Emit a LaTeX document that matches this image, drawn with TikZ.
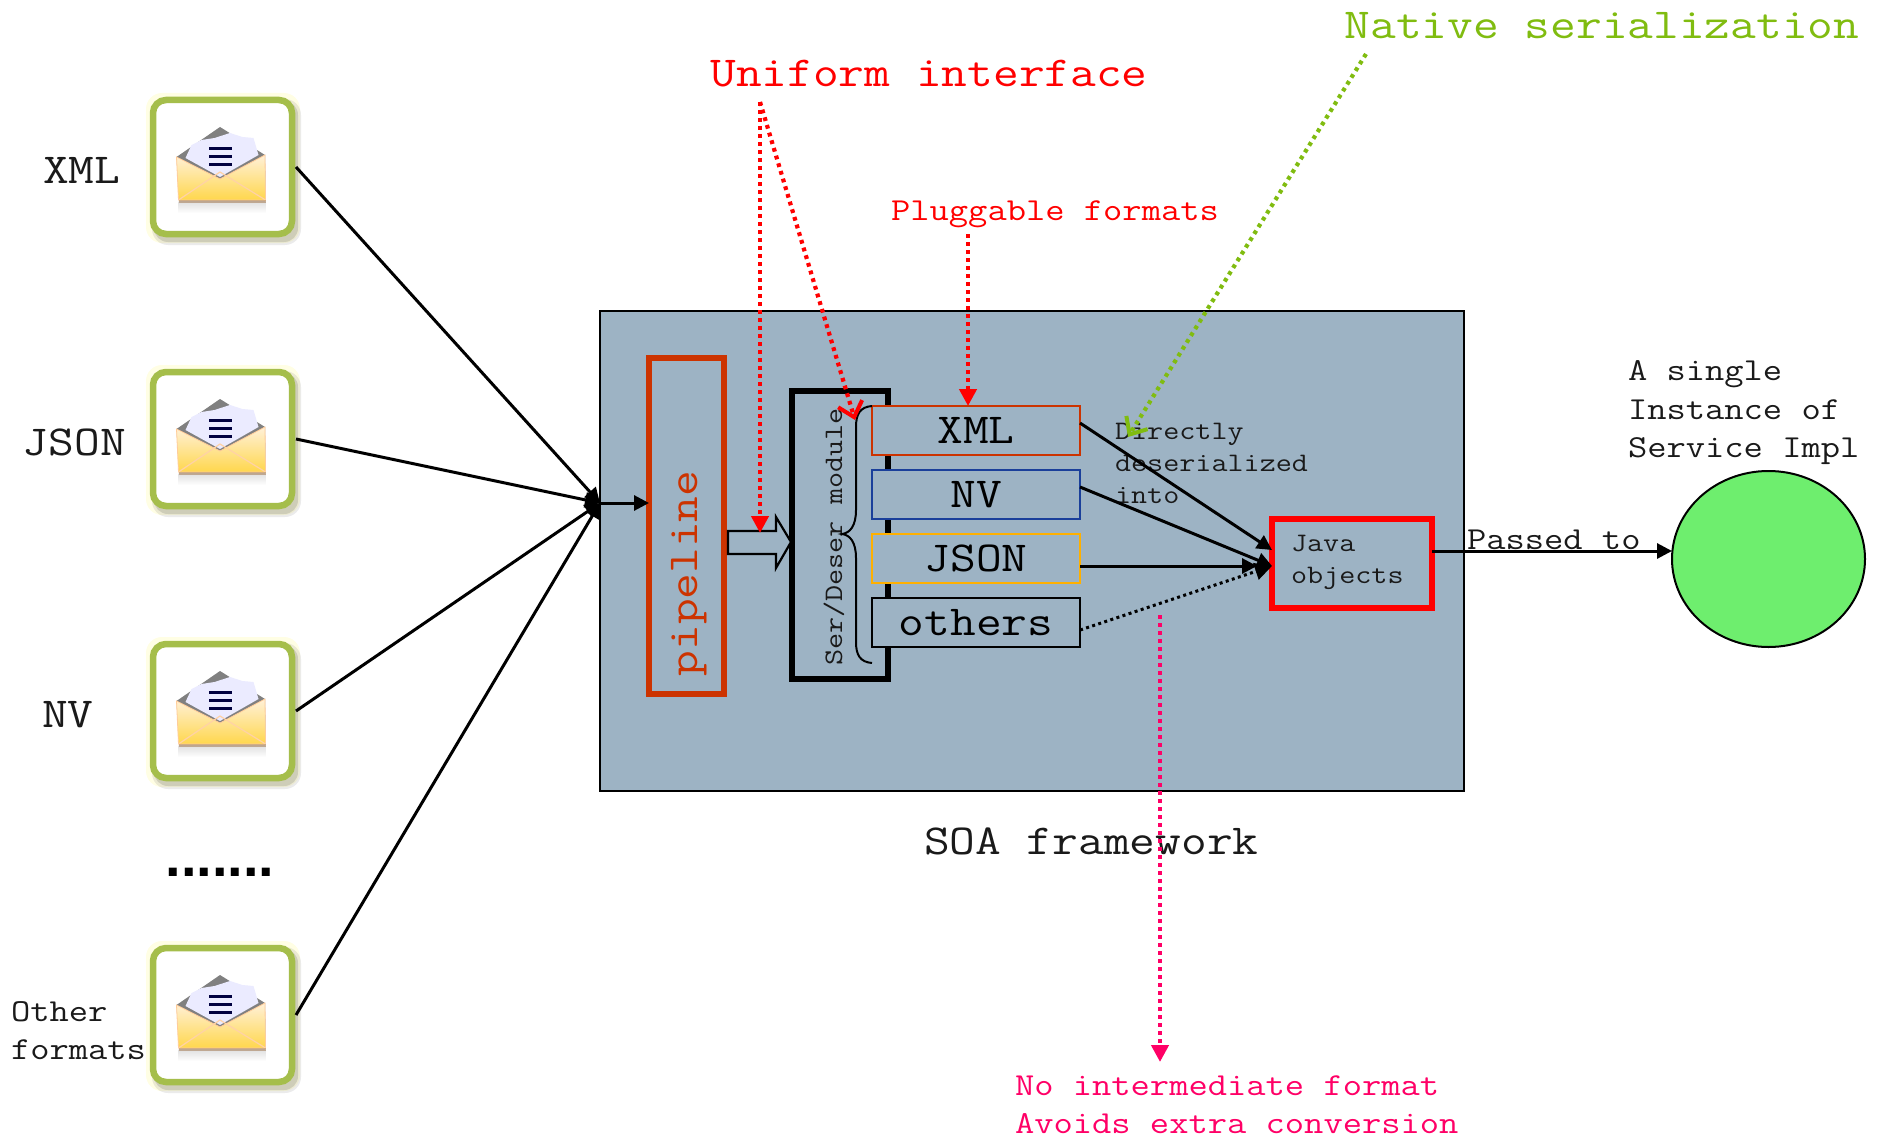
\documentclass[tikz,border=0pt]{standalone}
\usepackage{fontspec}
\usetikzlibrary{arrows.meta,shapes.geometric}
\setmonofont[FakeStretch=1.17]{Latin Modern Mono}
\newfontfamily\dotfont{Liberation Sans}[BoldFont={Liberation Sans Bold}]
\definecolor{panel}{HTML}{9DB3C4}
\definecolor{rust}{HTML}{CC3300}
\definecolor{navyb}{HTML}{1A3F9A}
\definecolor{amberb}{HTML}{FFB000}
\definecolor{redb}{HTML}{FF0000}
\definecolor{limeb}{HTML}{80BC10}
\definecolor{pinkb}{HTML}{FF0066}
\definecolor{soul}{HTML}{6EEE6E}
\definecolor{frameg}{HTML}{A5BE4B}
\definecolor{inkk}{HTML}{1A1A1A}
\newcommand{\szL}{\ttfamily\fontsize{42.7}{51}\selectfont}
\newcommand{\szM}{\ttfamily\fontsize{32}{38.4}\selectfont}
\newcommand{\szS}{\ttfamily\fontsize{26.7}{32}\selectfont}
\tikzset{
  x=1pt,y=-1pt,
  every node/.style={inner sep=0pt,outer sep=0pt,text=inkk},
  lbl/.style={anchor=base west,align=left},
  fmtbox/.style={draw,fill=panel,line width=2pt,minimum width=208pt,minimum height=49pt,text height=28pt,text depth=3pt,font=\szL,text=black},
  conn/.style={line width=3pt,-{Triangle[length=15pt,width=15pt]}},
  dotconn/.style={line width=4.2pt,dash pattern=on 3.8pt off 4.2pt},
  thindot/.style={line width=3pt,dash pattern=on 3pt off 3.4pt},
  openhead/.style={-{Straight Barb[length=14pt,width=25pt,line width=4pt]}},
  bighead/.style={-{Triangle[length=17pt,width=17pt]}},
  icon/.style={draw=frameg,line width=6.5pt,rounded corners=13pt,fill=white,minimum width=139pt,minimum height=134pt},
  pics/mailglyph/.style={code={
    \shade[top color=black!18,bottom color=white,opacity=.7] (-44,34) rectangle (43,46);
    \fill[black!50] (-46,-10) -- (-2.5,-40) -- (42.5,-12) -- (43,20) -- (-44,20) -- cycle;
    \fill[white!92!blue] (-37,-9) -- (-31,-22) -- (-21,-27) -- (-8,-29) -- (7.5,-34) -- (20,-30) -- (31,-29) -- (36,-12) -- (-2.5,10) -- cycle;
    \shade[top color=yellow!25!orange!15!white,bottom color=orange!45!yellow!70!white,draw=orange!40!white,line width=.8pt]
      (-46,-10) -- (-2.5,12) -- (42.5,-12) -- (43,33) -- (-44,33) -- cycle;
    \draw[orange!35!white,line width=1.2pt] (-44,33) -- (-2.5,5) -- (43,33);
    \fill[orange!50!black,opacity=.35] (-44,33) rectangle (43,35.5);
    \fill[black!75!blue] (-14,-20) rectangle (9,-17);
    \fill[black!75!blue] (-14,-12) rectangle (9,-9);
    \fill[black!75!blue] (-14,-4) rectangle (9,-1);
  }},
}
\newcommand{\halo}[1]{%
  \fill[yellow!30,opacity=.35,rounded corners=16pt] (146,#1-74) rectangle (300,#1+76);
  \fill[black,opacity=.08,rounded corners=16pt] (152,#1-68) rectangle (301,#1+78);
  \fill[black,opacity=.12,rounded corners=14pt] (154,#1-66) rectangle (298,#1+75);
}
\begin{document}
\begin{tikzpicture}
\useasboundingbox (0,0) rectangle (1879,1137);

% Message icons
\foreach \yy in {167,439,711,1015}{\halo{\yy}}
\node[icon] (iconA) at (222.5,167) {};
\node[icon] (iconB) at (222.5,439) {};
\node[icon] (iconC) at (222.5,711) {};
\node[icon] (iconD) at (222.5,1015) {};
\pic at (iconA.center) {mailglyph};
\pic at (iconB.center) {mailglyph};
\pic at (iconC.center) {mailglyph};
\pic at (iconD.center) {mailglyph};

\node[lbl,font=\szL] (lxml) at (43,183) {XML};
\node[lbl,font=\szL] (ljson) at (23,455) {JSON};
\node[lbl,font=\szL] (lnv) at (42,727) {NV};
\node[lbl,font=\szM] (lother1) at (11,1021) {Other};
\node[lbl,font=\szM] (lother2) at (11,1059) {formats};
\node[anchor=base,text=black,font=\dotfont\bfseries\fontsize{56}{60}\selectfont] (ldots) at (220,876) {.......};

% Framework panel
\node[draw,fill=panel,line width=2pt,minimum width=864pt,minimum height=480pt] (panelbox) at (1032,551) {};
\coordinate (hub) at (600,503);
\node[lbl,font=\szL] (lsoa) at (924,854) {SOA framework};

% Pipeline
\node[draw=rust,line width=6pt,minimum width=75pt,minimum height=336pt] (pipe) at (686.5,526) {};
\node[anchor=base,rotate=90,text=rust,font=\szL] (lpipe) at (697,573.5) {pipeline};

% Ser/Deser module
\node[draw=black,line width=6pt,minimum width=96pt,minimum height=288pt] (serdes) at (840,535) {};
\node[anchor=base,rotate=90,font=\szS] (lserdes) at (842,537) {Ser/Deser module};

% Block arrow
\draw[line width=2.2pt,line join=miter,fill=panel] (728,531) -- (776,531) -- (776,517) -- (791,542) -- (776,568) -- (776,554) -- (728,554) -- cycle;

% Format boxes
\node[fmtbox,draw=rust] (fxml) at (976,430.5) {XML};
\node[fmtbox,draw=navyb] (fnv) at (976,494.5) {NV};
\node[fmtbox,draw=amberb] (fjson) at (976,558.5) {JSON};
\node[fmtbox,draw=black] (fothers) at (976,622.5) {others};

% Brace
\draw[line width=2pt] (872,406) .. controls (860,407) and (856,414) .. (856,427) -- (856,510)
  .. controls (856,526) and (850,533) .. (842,534)
  .. controls (850,535) and (856,542) .. (856,558) -- (856,642)
  .. controls (856,655) and (860,662) .. (872,663);

% Java objects
\node[draw=redb,line width=6pt,minimum width=160pt,minimum height=89pt] (java) at (1352,563.5) {};
\node[lbl,font=\szS] (ljava1) at (1291,551) {Java};
\node[lbl,font=\szS] (ljava2) at (1291,583) {objects};

\node[lbl,font=\szS] (ld1) at (1115,439) {Directly};
\node[lbl,font=\szS] (ld2) at (1115,471) {deserialized};
\node[lbl,font=\szS] (ld3) at (1115,503) {into};

% Service instance
\node[draw=black,fill=soul,line width=2pt,ellipse,minimum width=193pt,minimum height=176pt] (impl) at (1768.5,559) {};
\node[lbl,font=\szM] (limpl1) at (1628,380) {A single};
\node[lbl,font=\szM] (limpl2) at (1628,419) {Instance of};
\node[lbl,font=\szM] (limpl3) at (1628,457) {Service Impl};
\node[lbl,font=\szM] (lpassed) at (1467,549) {Passed to};

% Connectors
\draw[conn] ([xshift=4pt]iconA.east) -- (hub);
\draw[conn] ([xshift=4pt]iconB.east) -- (hub);
\draw[conn] ([xshift=4pt]iconC.east) -- (hub);
\draw[conn] ([xshift=4pt]iconD.east) -- (hub);
\draw[conn] (hub) -- (pipe.west |- hub);

\draw[conn] ([yshift=7.5pt]fxml.east) -- ([yshift=13.5pt]java.west);
\draw[conn] ([yshift=7.5pt]fnv.east) -- ([yshift=-2.5pt]java.west);
\draw[conn] ([yshift=-7.5pt]fjson.east) -- ([xshift=-15pt,yshift=-2.5pt]java.west);
\draw[thindot,bighead] ([yshift=-7.5pt]fothers.east) -- ([yshift=-2.5pt]java.west);
\draw[conn] ([yshift=12.5pt]java.east) -- ([yshift=8pt]impl.west);

% Annotations
\node[anchor=base,text=redb,font=\szL] (uniform) at (929,87) {Uniform interface};
\node[anchor=base,text=redb,font=\szM] (plug) at (1055,220) {Pluggable formats};
\node[anchor=base,text=limeb,font=\szL] (native) at (1602,39) {Native serialization};
\node[lbl,text=pinkb,font=\szM] (nointer1) at (1015,1095) {No intermediate format};
\node[lbl,text=pinkb,font=\szM] (nointer2) at (1015,1133) {Avoids extra conversion};

\coordinate (uni1) at (760,102);
\coordinate (uni2) at (760,533);
\coordinate (uni3) at (855,420);
\coordinate (nat1) at (1366,54);
\coordinate (nat2) at (1128,437);
\coordinate (pink1) at (1160,615);
\coordinate (pink2) at (1160,1062);
\coordinate (plug1) at (968,234);

\draw[dotconn,redb,bighead] (uni1) -- (uni2);
\draw[dotconn,redb,openhead] (uni1) -- (uni3);
\draw[dotconn,redb,bighead] (plug1) -- (plug1 |- fxml.north);
\draw[dotconn,limeb,openhead] (nat1) -- (nat2);
\draw[dotconn,pinkb,bighead] (pink1) -- (pink2);
\end{tikzpicture}
\end{document}
